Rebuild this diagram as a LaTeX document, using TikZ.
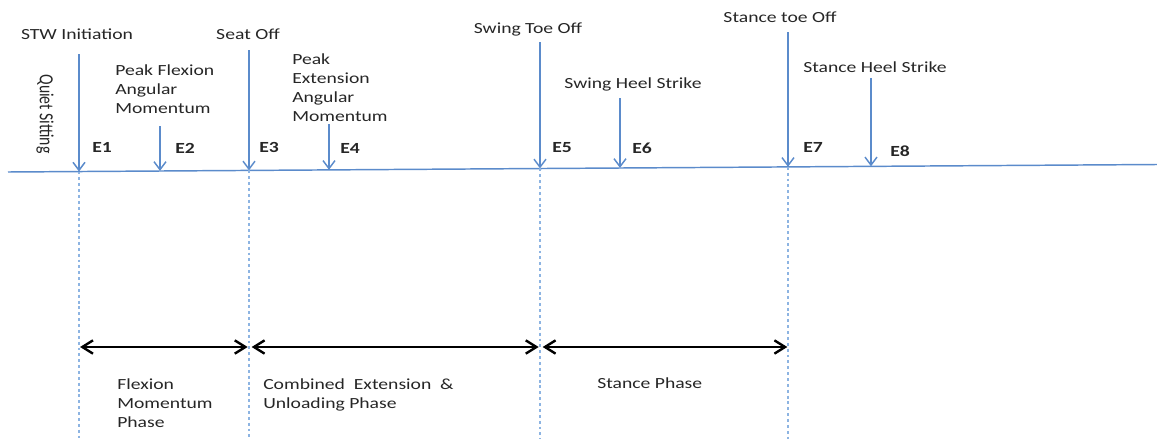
\documentclass[tikz,border=0pt]{standalone}
\usepackage{fontspec}
\setmainfont[FakeStretch=1.27]{Carlito}
\newfontfamily\uprightlabel{Carlito}
\usetikzlibrary{arrows.meta}
\definecolor{evblue}{HTML}{5B8BCB}
\definecolor{guideblue}{HTML}{8DB4E2}
\definecolor{txt}{HTML}{262626}
\tikzset{
  lbl/.style={font=\fontsize{11.6}{14.25}\selectfont, text=txt, inner sep=0pt, align=left},
  evlbl/.style={font=\fontsize{11.6}{14.25}\selectfont\bfseries, text=txt, inner sep=0pt, anchor=base west},
  event/.style={draw=evblue, line width=1.1pt, -{Straight Barb[length=6pt,width=9pt,line width=1.1pt]}},
  axis/.style={draw=evblue, line width=1.1pt},
  guide/.style={draw=guideblue, line width=1.2pt, dash pattern=on 2.2pt off 2.2pt},
  span/.style={draw=black, line width=2.2pt, {Straight Barb[length=8pt,width=10pt,line width=1.8pt]}-{Straight Barb[length=8pt,width=10pt,line width=1.8pt]}}
}
\begin{document}
\begin{tikzpicture}[x=0.75pt, y=-0.75pt]
\useasboundingbox (0,0) rectangle (1157,439);

% time axis
\coordinate (axL) at (8,172);
\coordinate (axR) at (1157,164.5);
\draw[axis] (axL) -- (axR);

% event tops and their points on the axis
\coordinate (t1) at (79,54);   \coordinate (b1) at (79,171.5);
\coordinate (t2) at (160,126); \coordinate (b2) at (160,170.9);
\coordinate (t3) at (249,50);  \coordinate (b3) at (249,170.4);
\coordinate (t4) at (329,124); \coordinate (b4) at (329,169.8);
\coordinate (t5) at (540,42);  \coordinate (b5) at (540,168.4);
\coordinate (t6) at (620,98);  \coordinate (b6) at (620,167.9);
\coordinate (t7) at (788,32);  \coordinate (b7) at (788,166.8);
\coordinate (t8) at (871,78);  \coordinate (b8) at (871,166.3);

% guides down from the phase boundaries
\coordinate (g1) at (79,439);
\coordinate (g3) at (249,439);
\coordinate (g5) at (540,439);
\coordinate (g7) at (788,439);
\draw[guide] (b1) -- (g1);
\draw[guide] (b3) -- (g3);
\draw[guide] (b5) -- (g5);
\draw[guide] (b7) -- (g7);

% event arrows
\foreach \i in {1,...,8} \draw[event] (t\i) -- (b\i);

% event names (multi-line ones are placed by the baseline of their last line)
\node[lbl, anchor=base] (n1) at (77,39) {STW Initiation};
\node[lbl, anchor=base west] (n2) at (115,113) {Peak Flexion\\Angular\\Momentum};
\node[lbl, anchor=base] (n3) at (248,39) {Seat Off};
\node[lbl, anchor=base west] (n4) at (292,121) {Peak\\Extension\\Angular\\Momentum};
\node[lbl, anchor=base] (n5) at (528,33) {Swing Toe Off};
\node[lbl, anchor=base] (n6) at (633,88) {Swing Heel Strike};
\node[lbl, anchor=base] (n7) at (780,22) {Stance toe Off};
\node[lbl, anchor=base] (n8) at (875,72) {Stance Heel Strike};
\node[lbl, rotate=-90, font=\uprightlabel\fontsize{11.8}{14}\selectfont] (qs) at (45,114)
  {\scalebox{1}[1.27]{Quiet Sitting}};

% event tags
\node[evlbl] (e1) at (92,152) {E1};
\node[evlbl] (e2) at (175,153) {E2};
\node[evlbl] (e3) at (259,152) {E3};
\node[evlbl] (e4) at (340,153) {E4};
\node[evlbl] (e5) at (552,152) {E5};
\node[evlbl] (e6) at (632,153) {E6};
\node[evlbl] (e7) at (803,152) {E7};
\node[evlbl] (e8) at (890,156) {E8};

% phase spans
\coordinate (p1) at (79,347);
\coordinate (p3) at (249,347);
\coordinate (p5) at (540,347);
\coordinate (p7) at (788,347);
\draw[span] ([xshift=0.8pt]p1) -- ([xshift=-1pt]p3);
\draw[span] ([xshift=2pt]p3) -- ([xshift=-1pt]p5);
\draw[span] ([xshift=2pt]p5) -- ([xshift=-0.5pt]p7);

% phase names
\node[lbl, anchor=base west] (ph1) at (117,427) {Flexion\\Momentum\\Phase};
\node[lbl, anchor=base west] (ph2) at (263,408) {Combined~ Extension~ \&\\Unloading Phase};
\node[lbl, anchor=base west] (ph3) at (597,388) {Stance Phase};
\end{tikzpicture}
\end{document}
